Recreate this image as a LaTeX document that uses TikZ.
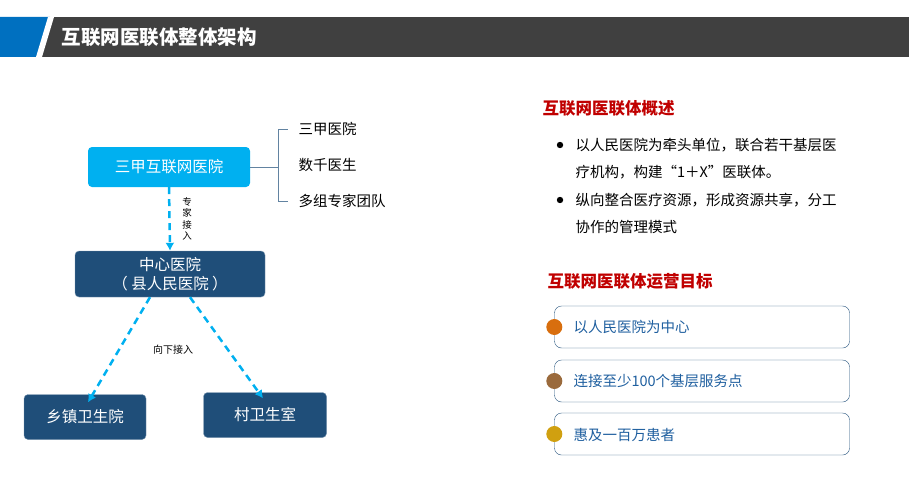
\documentclass[tikz,border=0pt]{standalone}
\usepackage{fontspec}
\setmainfont{Noto Sans CJK SC}
\usetikzlibrary{positioning}
\definecolor{hdrgray}{HTML}{404040}
\definecolor{hdrblue}{HTML}{0070C0}
\definecolor{lightblue}{HTML}{00B0F0}
\definecolor{darkblue}{HTML}{1F4E79}
\definecolor{titlered}{HTML}{C00000}
\definecolor{goalblue}{HTML}{1F5F9F}
\definecolor{dotorange}{HTML}{D86E0E}
\definecolor{dotbrown}{HTML}{9A6A3C}
\definecolor{dotgold}{HTML}{D0A010}
\tikzset{
  hospbox/.style={rounded corners=4pt, text=white, font=\fontsize{15.5}{19}\selectfont, align=center, inner sep=0pt},
  linkarrow/.style={draw=lightblue, line width=2.5pt, dash pattern=on 7pt off 5pt, -{Latex[length=8pt,width=9pt]}},
  goalbox/.style={draw=darkblue, rounded corners=7pt, minimum width=295pt, minimum height=42pt, inner sep=0pt},
  goaltext/.style={anchor=west, text=goalblue, font=\fontsize{14.5}{17}\selectfont},
  bodytext/.style={anchor=west, font=\fontsize{14.5}{17}\selectfont},
  redtitle/.style={anchor=west, text=titlered, font=\bfseries\fontsize{16.5}{19}\selectfont}
}
\usetikzlibrary{arrows.meta}
\begin{document}
\begin{tikzpicture}[x=1pt,y=-1pt]
\useasboundingbox (0,0) rectangle (909,495);
% header
\fill [hdrgray] (35,17) -- (909,17) -- (909,57) -- (35,57) -- cycle;
\fill [hdrblue] (0,17) -- (50,17) -- (38,57) -- (0,57) -- cycle;
\fill [white] (48,17) -- (54,17) -- (42,57) -- (36,57) -- cycle;
\node [anchor=west, text=white, font=\bfseries\fontsize{19.5}{22}\selectfont] (title) at (58,37) {互联网医联体整体架构};
% left tree
\node [hospbox, fill=lightblue, minimum width=162pt, minimum height=40pt] (tertiary) at (169,167) {三甲互联网医院};
\node [hospbox, fill=darkblue, draw=darkblue!60, minimum width=190pt, minimum height=46pt] (center) at (170,274) {中心医院\\（ 县人民医院 ）};
\node [hospbox, fill=darkblue, draw=darkblue!60, minimum width=122pt, minimum height=45pt] (town) at (85,417) {乡镇卫生院};
\node [hospbox, fill=darkblue, draw=darkblue!60, minimum width=123pt, minimum height=45pt] (village) at (265,415) {村卫生室};
% bracket
\coordinate (brace) at (278,167);
\node [bodytext] (grade) at (295,129) {三甲医院};
\node [bodytext] (doctors) at (295,165) {数千医生};
\node [bodytext] (experts) at (295,201) {多组专家团队};
\draw [darkblue!70] (tertiary.east) -- (brace);
\draw [darkblue!70] (278,129) -- (278,201);
\draw [darkblue!70] (278,129) -- (288,129);
\draw [darkblue!70] (278,201) -- (288,201);
% connectors
\draw [linkarrow] (tertiary.south) -- (center.north);
\node [align=center, font=\fontsize{9.5}{11.5}\selectfont] (expertlink) at (187,219) {专\\家\\接\\入};
\draw [linkarrow] ([xshift=-20pt]center.south) -- ([xshift=3pt,yshift=-8pt]town.north);
\draw [linkarrow] ([xshift=20pt]center.south) -- ([xshift=-2pt,yshift=-6pt]village.north);
\node [font=\fontsize{10}{12}\selectfont] (downlink) at (173,350) {向下接入};
% overview
\node [redtitle] (overview) at (539,108) {互联网医联体概述};
\foreach \y in {145,200} \fill (560,\y) circle (3.2pt);
\node [bodytext] (l1) at (572,145) {以人民医院为牵头单位，联合若干基层医};
\node [bodytext] (l2) at (572,172) {疗机构，构建“1＋X”医联体。};
\node [bodytext] (l3) at (572,200) {纵向整合医疗资源，形成资源共享，分工};
\node [bodytext] (l4) at (572,227) {协作的管理模式};
% goals
\node [redtitle] (goals) at (544,281) {互联网医联体运营目标};
\node [goalbox] (g1) at (702,327) {};
\node [goalbox] (g2) at (702,381) {};
\node [goalbox] (g3) at (702,434) {};
\fill [dotorange] (g1.west) circle (8pt);
\fill [dotbrown] (g2.west) circle (8pt);
\fill [dotgold] (g3.west) circle (8pt);
\node [goaltext] (t1) at (570,327) {以人民医院为中心};
\node [goaltext] (t2) at (570,381) {连接至少100个基层服务点};
\node [goaltext] (t3) at (570,435) {惠及一百万患者};
\end{tikzpicture}
\end{document}
